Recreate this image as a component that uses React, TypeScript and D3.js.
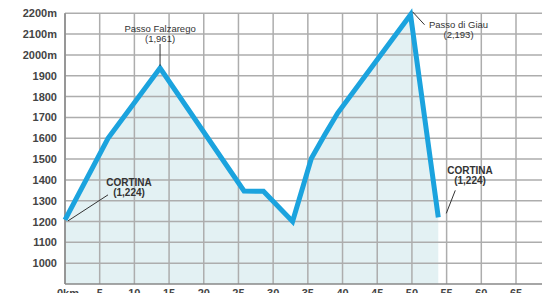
import React from 'react';
import { scaleLinear, line, area } from 'd3';

// profile of the route (km, metres)
const distances = [0, 6.2, 13.7, 25.8, 28.6, 32.8, 35.5, 37.5, 39.3, 49.8, 53.8];
const elevations = [1208, 1600, 1937, 1347, 1345, 1200, 1503, 1620, 1721, 2193, 1220];

const yTicks = [1000, 1100, 1200, 1300, 1400, 1500, 1600, 1700, 1800, 1900, 2000, 2100, 2200];
const xTicks = [0, 5, 10, 15, 20, 25, 30, 35, 40, 45, 50, 55, 60, 65];

const labels = [
  { name: 'Passo Falzarego', value: '(1,961)', at: 2 },
  { name: 'Passo di Giau', value: '(2,193)', at: 9 },
  { name: 'CORTINA', value: '(1,224)', at: 0 },
  { name: 'CORTINA', value: '(1,224)', at: 10 },
];

const W = 542;
const H = 293;

export default function App() {
  const x = scaleLinear().domain([0, 65]).range([65, 516]);
  const y = scaleLinear().domain([900, 2200]).range([284, 13.3]);

  const pts = distances.map((d, i) => [d, elevations[i]] as [number, number]);
  const path = line<[number, number]>()
    .x(d => x(d[0]))
    .y(d => y(d[1]))(pts);
  const fill = area<[number, number]>()
    .x(d => x(d[0]))
    .y0(y(900))
    .y1(d => y(d[1]))(pts);

  const txt = '#333';
  const grid = '#adadad';
  const font = '"Liberation Sans", Arial, sans-serif';

  // leader lines and text placement for each label
  const p = (i: number) => [x(distances[i]), y(elevations[i])];
  const [fx, fy] = p(labels[0].at);
  const [gx, gy] = p(labels[1].at);
  const [c1x, c1y] = p(labels[2].at);
  const [c2x, c2y] = p(labels[3].at);

  return (
    <svg width={W} height={H} style={{ position: 'absolute', left: 0, top: 0, fontFamily: font }}>
      <rect width={W} height={H} fill="#fff" />
      <path d={fill ?? ''} fill="#e3f1f3" />
      {yTicks.map(t => (
        <line key={'h' + t} x1={x(0)} x2={W} y1={y(t)} y2={y(t)} stroke={grid} strokeWidth={1.5} />
      ))}
      {xTicks.map(t => (
        <line key={'v' + t} x1={x(t)} x2={x(t)} y1={y(2200)} y2={y(900)} stroke={grid} strokeWidth={1.5} />
      ))}
      <line x1={x(0)} x2={x(0)} y1={y(2200)} y2={y(900)} stroke="#888" strokeWidth={1.5} />
      <line x1={x(0)} x2={W} y1={y(900)} y2={y(900)} stroke="#888" strokeWidth={1.5} />

      {yTicks.map(t => (
        <text key={'yl' + t} x={57} y={y(t) + 4} textAnchor="end" fontSize={11} fontWeight="bold" fill="#444">
          {t >= 2000 ? `${t}m` : t}
        </text>
      ))}
      {xTicks.map(t => (
        <text key={'xl' + t} x={t === 0 ? x(t) - 8 : x(t)} y={297} textAnchor={t === 0 ? 'start' : 'middle'} fontSize={11} fontWeight="bold" fill="#444">
          {t === 0 ? '0km' : t}
        </text>
      ))}

      <path d={path ?? ''} fill="none" stroke="#1ba3de" strokeWidth={5} strokeLinejoin="miter" />

      {/* Passo Falzarego */}
      <line x1={fx} x2={fx} y1={44} y2={fy - 2} stroke={txt} strokeWidth={1} />
      <text x={fx} y={32} textAnchor="middle" fontSize={9.5} fill={txt}>{labels[0].name}</text>
      <text x={fx} y={42} textAnchor="middle" fontSize={9.5} fill={txt}>{labels[0].value}</text>

      {/* Passo di Giau */}
      <line x1={gx + 2} x2={gx + 14} y1={gy - 3} y2={gy + 10} stroke={txt} strokeWidth={1} />
      <text x={gx + 48} y={28} textAnchor="middle" fontSize={9.5} fill={txt}>{labels[1].name}</text>
      <text x={gx + 48} y={38} textAnchor="middle" fontSize={9.5} fill={txt}>{labels[1].value}</text>

      {/* Cortina start */}
      <line x1={c1x + 3} x2={c1x + 43} y1={c1y + 1} y2={c1y - 25} stroke={txt} strokeWidth={1} />
      <text x={129} y={186} textAnchor="middle" fontSize={10} fontWeight="bold" fill={txt}>{labels[2].name}</text>
      <text x={129} y={196} textAnchor="middle" fontSize={10} fontWeight="bold" fill={txt}>{labels[2].value}</text>

      {/* Cortina end */}
      <line x1={c2x + 8} x2={c2x + 17} y1={c2y - 4} y2={c2y - 27} stroke={txt} strokeWidth={1} />
      <text x={470} y={174} textAnchor="middle" fontSize={10} fontWeight="bold" fill={txt}>{labels[3].name}</text>
      <text x={470} y={184} textAnchor="middle" fontSize={10} fontWeight="bold" fill={txt}>{labels[3].value}</text>
    </svg>
  );
}
